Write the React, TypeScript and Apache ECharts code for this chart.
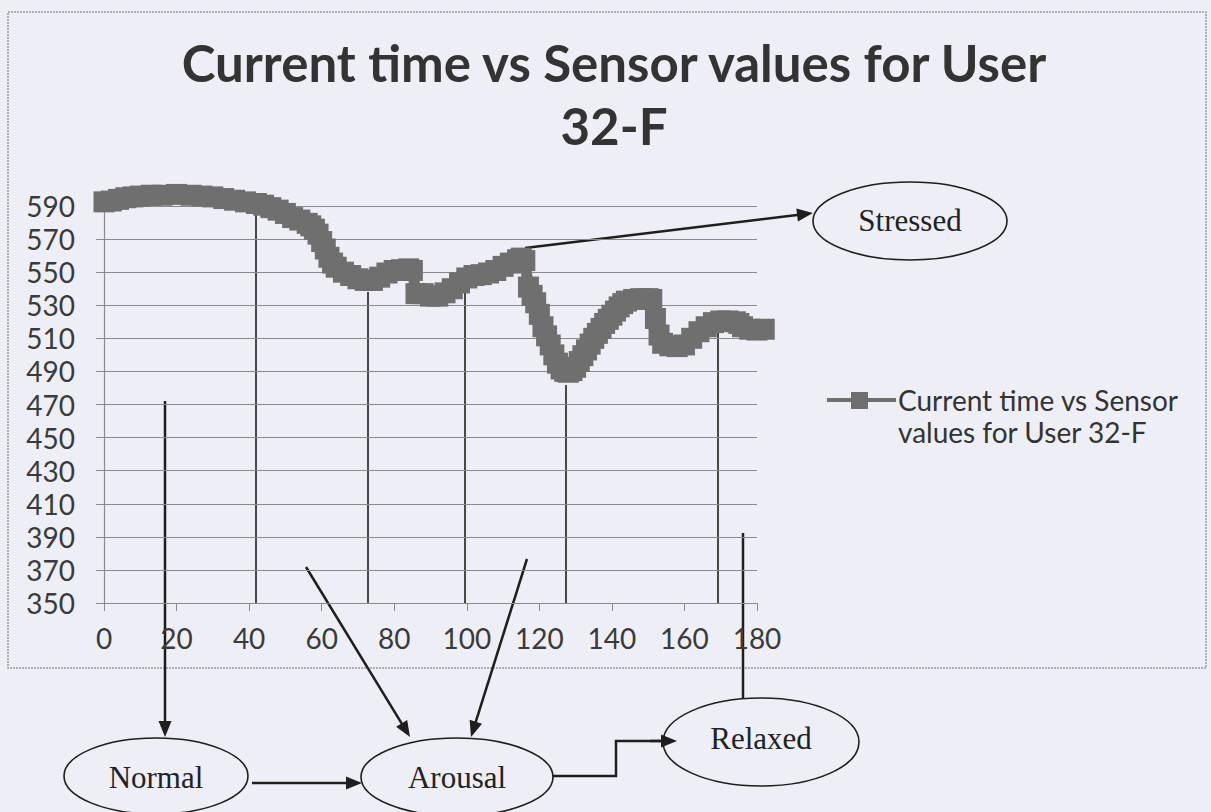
import React, { useEffect, useRef } from "react";
import * as echarts from "echarts";

// ---------- data ----------
const TITLE_TEXT = "Current time vs Sensor values for User\n32-F";
const SERIES_NAME = "Current time vs Sensor values for User 32-F";
const LEGEND_LINES = ["Current time vs Sensor", "values for User 32-F"];

const X_MIN = 0;
const X_MAX = 180;
const X_STEP = 20;
const Y_MIN = 350;
const Y_MAX = 590;
const Y_STEP = 20;

const times = [
  0, 2, 4, 6, 8, 10, 13, 16, 20, 24, 27, 30, 33, 36, 39, 42, 44, 46, 48, 50,
  52, 54, 56, 57, 58, 59, 60, 61, 62, 63, 64, 66, 68, 70, 72, 74, 76, 78, 80,
  82, 84, 85, 86, 88, 90, 92, 94, 96, 98, 100, 102, 104, 106, 108, 110, 112,
  114, 115, 116, 117, 118, 119, 120, 121, 122, 123, 124, 125, 126, 127, 128,
  129, 130, 131, 132, 133, 134, 135, 136, 137, 138, 139, 140, 141, 142, 143,
  144, 146, 148, 150, 151, 152, 153, 154, 156, 158, 160, 162, 164, 166, 168,
  170, 172, 174, 175, 176, 178, 180, 182,
];
const sensorValues = [
  592.5, 593, 594, 595, 595.5, 596, 596.5, 596.5, 597, 596.5, 596, 595.5,
  594.5, 593.5, 592.5, 591.5, 590.5, 589, 587.5, 585.5, 583, 581.5, 579.5, 578,
  576, 573, 568.5, 564, 559, 555.5, 553, 550, 548, 546, 545, 545, 547, 549.5,
  551, 551.5, 552, 551, 537, 537, 535.5, 535.5, 537.5, 540, 543.5, 546.5, 548,
  548.5, 549.5, 551, 553.5, 555.5, 557.5, 558.5, 557, 541, 536, 531.5, 524.5,
  517, 511.5, 506, 500, 495, 491.5, 490, 489.5, 490.5, 492.5, 496, 499.5, 503,
  506.5, 510, 513, 516, 519, 521.5, 524, 526.5, 529, 531, 532.5, 533.5, 534,
  534, 533.5, 522, 512, 507, 505.5, 505, 506, 510, 514, 517, 519.5, 520.5,
  520.5, 520, 519, 517, 515.5, 515, 515.5,
];

const STATES = ["Stressed", "Normal", "Arousal", "Relaxed"];

// ---------- styles ----------
const BG = "#eeeff6";
const INK = "#1e1e1e";
const SERIES_COLOR = "#6f6f6f";
const AXIS_FONT = "Lato";
const SERIF = "'Liberation Serif', 'Times New Roman', serif";

function arrow(x1: number, y1: number, x2: number, y2: number, w = 2.5) {
  const headLen = 16;
  const headW = 13;
  const dx = x2 - x1;
  const dy = y2 - y1;
  const L = Math.hypot(dx, dy);
  const ux = dx / L;
  const uy = dy / L;
  const bx = x2 - ux * headLen;
  const by = y2 - uy * headLen;
  const px = -uy;
  const py = ux;
  return [
    {
      type: "line",
      silent: true,
      shape: { x1, y1, x2: bx + ux * 2, y2: by + uy * 2 },
      style: { stroke: INK, lineWidth: w },
    },
    {
      type: "polygon",
      silent: true,
      shape: {
        points: [
          [x2, y2],
          [bx + (px * headW) / 2, by + (py * headW) / 2],
          [bx - (px * headW) / 2, by - (py * headW) / 2],
        ],
      },
      style: { fill: INK },
    },
  ];
}

function vline(x: number, y1: number, y2: number, w = 1.6) {
  return {
    type: "line",
    silent: true,
    shape: { x1: x, y1, x2: x, y2 },
    style: { stroke: INK, lineWidth: w },
  };
}

function stateBubble(label: string, cx: number, cy: number, rx: number, ry: number, ty: number) {
  return [
    {
      type: "ellipse",
      silent: true,
      shape: { cx, cy, rx, ry },
      style: { fill: "rgba(0,0,0,0)", stroke: INK, lineWidth: 1.6 },
    },
    {
      type: "text",
      silent: true,
      x: cx,
      y: ty,
      style: {
        text: label,
        fill: "#222",
        font: `31px ${SERIF}`,
        align: "center",
        verticalAlign: "middle",
      },
    },
  ];
}

export default function App() {
  const ref = useRef<HTMLDivElement>(null);

  useEffect(() => {
    if (!ref.current) return;
    const chart = echarts.init(ref.current, undefined, { renderer: "svg" });

    const data = times.map((t, i) => [t, sensorValues[i]]);

    const graphic: any[] = [
      // chart frame
      {
        type: "rect",
        silent: true,
        z: -10,
        shape: { x: 8, y: 12, width: 1198, height: 656 },
        style: { fill: "rgba(0,0,0,0)", stroke: "#9a9a9a", lineWidth: 1.5, lineDash: [2, 1] },
      },
      // legend
      {
        type: "line",
        silent: true,
        shape: { x1: 827, y1: 400, x2: 896, y2: 400 },
        style: { stroke: SERIES_COLOR, lineWidth: 4 },
      },
      {
        type: "rect",
        silent: true,
        shape: { x: 851, y: 392, width: 17, height: 17 },
        style: { fill: SERIES_COLOR },
      },
      {
        type: "text",
        silent: true,
        x: 898,
        y: 400,
        style: {
          text: LEGEND_LINES[0],
          fill: "#333",
          font: `28px ${AXIS_FONT}`,
          align: "left",
          verticalAlign: "middle",
        },
      },
      {
        type: "text",
        silent: true,
        x: 898,
        y: 432,
        style: {
          text: LEGEND_LINES[1],
          fill: "#333",
          font: `28px ${AXIS_FONT}`,
          align: "left",
          verticalAlign: "middle",
        },
      },
      // drop lines
      vline(256, 213, 603),
      vline(368, 292, 603),
      vline(465, 292, 603),
      vline(566, 385, 603),
      vline(718, 332, 603),
      // relaxed connector
      vline(743, 533, 698, 2.5),
      // arrows
      ...arrow(525, 248, 813, 213),
      ...arrow(165, 401, 165, 737),
      ...arrow(306, 567, 410, 737),
      ...arrow(527, 559, 471, 737),
      ...arrow(252, 783, 362, 783),
      {
        type: "polyline",
        silent: true,
        shape: { points: [[553, 776], [616, 776], [616, 741], [662, 741]] },
        style: { stroke: INK, lineWidth: 2.5, fill: "none" },
      },
      ...arrow(650, 741, 677, 741),
      // states
      ...stateBubble(STATES[0], 910, 221, 97, 39, 220),
      ...stateBubble(STATES[1], 156, 776, 92, 38, 777),
      ...stateBubble(STATES[2], 457, 777, 96, 39, 777),
      ...stateBubble(STATES[3], 761, 742, 98, 44, 738),
    ];

    chart.setOption({
      animation: false,
      backgroundColor: BG,
      title: {
        text: TITLE_TEXT,
        left: 609,
        top: 26,
        textAlign: "center",
        textStyle: {
          fontFamily: AXIS_FONT,
          fontWeight: "bold",
          fontSize: 51,
          lineHeight: 63,
          color: "#333",
        },
      },
      grid: { left: 104, right: 454, top: 206, bottom: 209, containLabel: false },
      xAxis: {
        type: "value",
        min: X_MIN,
        max: X_MAX,
        interval: X_STEP,
        axisLine: { show: true, lineStyle: { color: "#8a8a8a", width: 1.2 } },
        axisTick: { show: true, length: 8, lineStyle: { color: "#8a8a8a" } },
        splitLine: { show: false },
        axisLabel: {
          margin: 21,
          color: "#3a3a3a",
          fontFamily: AXIS_FONT,
          fontSize: 28,
        },
      },
      yAxis: {
        type: "value",
        min: Y_MIN,
        max: Y_MAX,
        interval: Y_STEP,
        axisLine: { show: true, lineStyle: { color: "#8a8a8a", width: 1.2 } },
        axisTick: { show: true, length: 8, lineStyle: { color: "#8a8a8a" } },
        splitLine: { show: true, lineStyle: { color: "#8a8a8a", width: 1.2 } },
        axisLabel: {
          margin: 29,
          color: "#3a3a3a",
          fontFamily: AXIS_FONT,
          fontSize: 28,
        },
      },
      series: [
        {
          name: SERIES_NAME,
          type: "line",
          data,
          clip: false,
          symbol: "rect",
          symbolSize: 21,
          showAllSymbol: true,
          lineStyle: { color: SERIES_COLOR, width: 11 },
          itemStyle: { color: SERIES_COLOR },
          z: 3,
        },
      ],
      graphic,
    });

    return () => chart.dispose();
  }, []);

  return (
    <div
      ref={ref}
      style={{ position: "fixed", left: 0, top: 0, width: 1211, height: 812, background: BG }}
    />
  );
}
